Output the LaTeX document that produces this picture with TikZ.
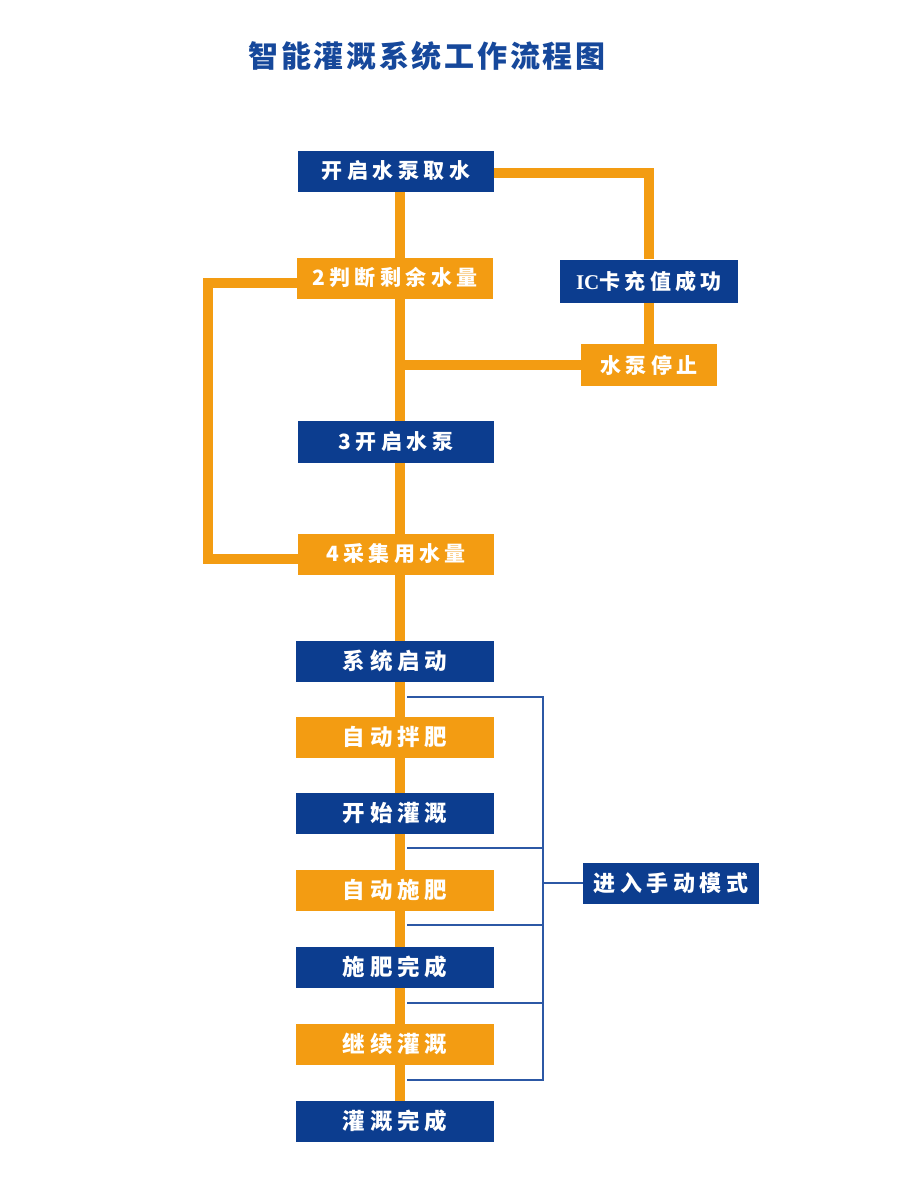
\documentclass[tikz,border=0pt]{standalone}
\usepackage{fontspec}
\setmainfont{Noto Sans CJK SC}
\newfontfamily\boxfont[LetterSpace=21]{Noto Sans CJK SC}
\newfontfamily\lowfont[LetterSpace=22]{Noto Sans CJK SC}
\newfontfamily\titlefont[LetterSpace=9]{Noto Sans CJK SC}
\newfontfamily\icfont{Liberation Serif}
\usetikzlibrary{backgrounds}
\definecolor{bxblue}{RGB}{12,61,143}
\definecolor{bxorange}{RGB}{243,156,18}
\definecolor{thinblue}{RGB}{44,88,165}
\definecolor{ttlblue}{RGB}{22,72,155}
\begin{document}
\begin{tikzpicture}[x=1pt,y=1pt,
  box/.style={minimum height=41pt, inner sep=0pt, text=white,
    font=\boxfont\bfseries\fontsize{21}{21}\selectfont},
  bluebox/.style={box, fill=bxblue},
  orbox/.style={box, fill=bxorange},
  wide/.style={minimum width=196pt},
  low/.style={minimum width=198pt, font=\lowfont\bfseries\fontsize{22.5}{22.5}\selectfont},
  pipe/.style={draw=bxorange, line width=10pt},
  thinline/.style={draw=thinblue, line width=2pt}]
\useasboundingbox (0,0) rectangle (900,-1188);

\node[font=\titlefont\bfseries\fontsize{30}{30}\selectfont, text=ttlblue] (title) at (427,-56) {智能灌溉系统工作流程图};

\node[bluebox,wide] (n1) at (396,-171) {开启水泵取水};
\node[orbox,wide] (n2) at (395,-278) {2判断剩余水量};
\node[bluebox,minimum width=178pt,minimum height=43pt] (ic) at (649,-281) {{\icfont IC}卡充值成功};
\node[orbox,minimum width=136pt,minimum height=42pt] (stop) at (649,-365) {水泵停止};
\node[bluebox,wide,minimum height=42pt] (n3) at (396,-442) {3开启水泵};
\node[orbox,wide] (n4) at (396,-554) {4采集用水量};

\node[bluebox,low] (s1) at (395,-661) {系统启动};
\node[orbox,low] (s2) at (395,-737) {自动拌肥};
\node[bluebox,low] (s3) at (395,-813.5) {开始灌溉};
\node[orbox,low] (s4) at (395,-890) {自动施肥};
\node[bluebox,low] (s5) at (395,-967) {施肥完成};
\node[orbox,low] (s6) at (395,-1044) {继续灌溉};
\node[bluebox,low] (s7) at (395,-1121) {灌溉完成};

\node[bluebox,minimum width=176pt,font=\boxfont\bfseries\fontsize{22}{22}\selectfont] (manual) at (671,-883) {进入手动模式};

\coordinate (t1) at (407,-697);
\coordinate (t2) at (407,-848);
\coordinate (t3) at (407,-925);
\coordinate (t4) at (407,-1003);
\coordinate (t5) at (407,-1080);
\coordinate (v1) at (543,-697);
\coordinate (v5) at (543,-1080);

\begin{pgfonlayer}{background}
\fill[white] (0,0) rectangle (900,-1188);
\draw[pipe] ([xshift=4pt]n1.center) -- ([xshift=4pt]n1.center |- s7.center);
\draw[pipe] ([yshift=-2pt]n1.east) -| (ic.north);
\draw[pipe] (ic.south) -- (stop.north);
\draw[pipe] (stop.west) -- ([xshift=4pt]stop.west -| n1.center);
\draw[pipe] ([yshift=-5pt]n2.west) -- ++(-89,0) |- ([yshift=-5pt]n4.west);
\draw[thinline] (t1) -- (v1) -- (v5) -- (t5);
\draw[thinline] (t2) -- (t2 -| v1);
\draw[thinline] (t3) -- (t3 -| v1);
\draw[thinline] (t4) -- (t4 -| v1);
\draw[thinline] (manual.west) -- (manual.west -| v1);
\end{pgfonlayer}
\end{tikzpicture}
\end{document}
